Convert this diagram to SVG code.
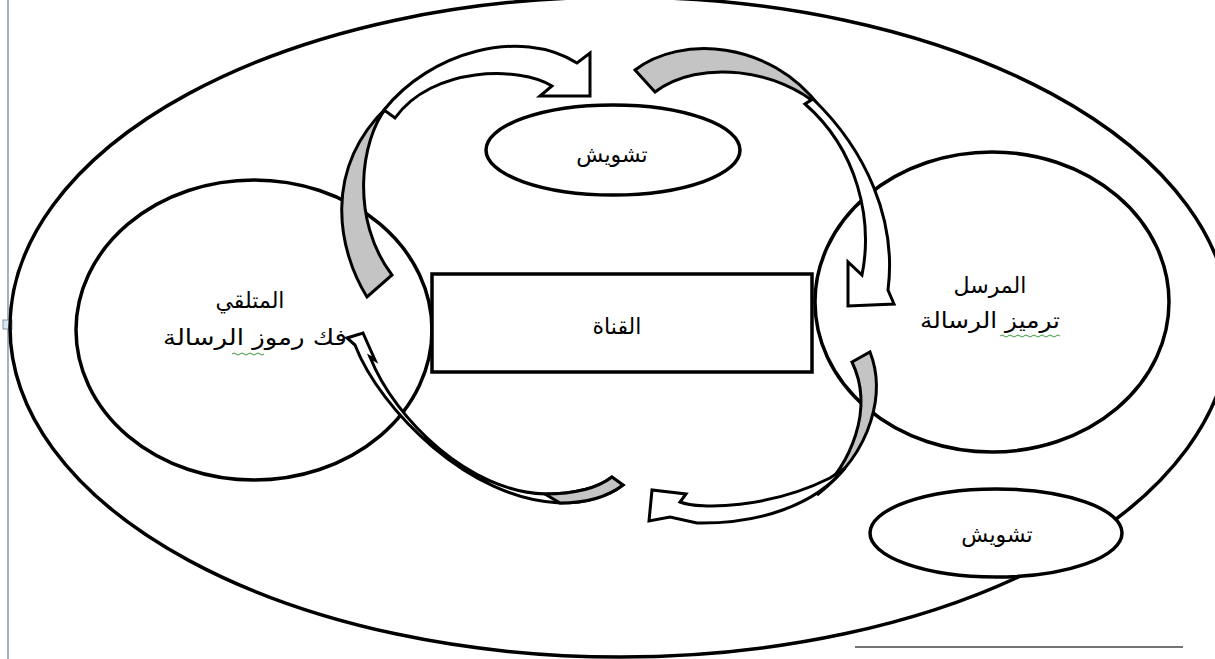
<svg xmlns="http://www.w3.org/2000/svg" width="1215" height="659" viewBox="0 0 1215 659">
<style>
.sh{fill:#ffffff;stroke:#000;stroke-width:3.5}
.ol{fill:none;stroke:#000;stroke-width:3.5}
.ar{fill:#ffffff;stroke:#000;stroke-width:3;stroke-linejoin:miter}
.bk{fill:#c4c4c4;stroke:#000;stroke-width:3;stroke-linejoin:miter}
.t{font-family:"DejaVu Sans",sans-serif;font-size:22px;fill:#000;text-anchor:middle}
.sq{fill:none;stroke:#3a9a3a;stroke-width:1}
</style>
<rect x="0" y="0" width="1215" height="659" fill="#ffffff"/>
<line x1="8" y1="0" x2="8" y2="659" stroke="#8797a6" stroke-width="1.5"/>
<rect x="3" y="320" width="9" height="9" fill="#dbe7ee" stroke="#7f93a3" stroke-width="1"/>
<line x1="855" y1="647" x2="1183" y2="647" stroke="#444" stroke-width="1.3"/>
<g id="outer"><ellipse class="ol" cx="620" cy="327" rx="610" ry="330"/></g>
<g id="receiver"><ellipse class="sh" cx="254" cy="330" rx="178" ry="150"/>
<text class="t" x="250" y="308">المتلقي</text>
<text class="t" x="255" y="345" textLength="184" lengthAdjust="spacingAndGlyphs">فك رموز الرسالة</text>
<path class="sq" d="M232,354 q2,-2 4,0 t4,0 t4,0 t4,0 t4,0 t4,0 t4,0 t4,0"/></g>
<g id="sender"><ellipse class="sh" cx="992" cy="302" rx="177" ry="150"/>
<text class="t" x="990" y="293">المرسل</text>
<text class="t" x="990" y="328" textLength="140" lengthAdjust="spacingAndGlyphs">ترميز الرسالة</text>
<path class="sq" d="M1000,336 q2,-2 4,0 t4,0 t4,0 t4,0 t4,0 t4,0 t4,0 t4,0 t4,0 t4,0 t4,0 t4,0 t4,0 t4,0 t4,0"/></g>
<g id="noise-top"><ellipse class="sh" cx="613" cy="150" rx="127" ry="45"/>
<text class="t" x="612" y="162">تشويش</text></g>
<g id="noise-bottom"><ellipse class="sh" cx="996" cy="533" rx="126" ry="44"/>
<text class="t" x="997" y="542">تشويش</text></g>
<g id="channel"><rect class="sh" x="432" y="274" width="380" height="98"/>
<text class="t" x="617" y="334">القناة</text></g>
<g id="connectors">
<path class="bk" d="M367,297 C338,250 322,170 387,107 C360,140 350,220 392,275 Z"/>
<path class="ar" d="M384,110 C430,52 520,27 577,63 L590,53 L590,96 L540,96 L552,86 C520,66 432,66 395,118 Z"/>
<path class="bk" d="M635,70 C680,35 770,40 820,107 C780,70 700,58 655,92 Z"/>
<path class="ar" d="M813,99 C866,150 897,220 888,290 L894,304 L848,306 L848,262 L862,275 C873,220 858,150 805,104 Z"/>
<path class="bk" d="M852,362 L870,352 C885,390 875,450 817,495 C850,465 875,410 852,362 Z"/>
<path class="ar" d="M845,468 C815,505 760,524 697,523 L670,517 L649,521 L652,490 L686,494 L680,502 C700,510 770,508 830,478 Z"/>
<path class="ar" d="M370,357 L375,360 L363,333 L347,338 L355,345 C380,410 470,500 560,503 C590,503 610,495 623,485 L612,477 C595,490 570,494 545,494 C470,492 395,420 370,357 Z"/>
<path class="bk" d="M560,503 C590,503 610,495 623,485 L612,477 C595,490 570,494 545,494 Z"/>
</g>
</svg>
